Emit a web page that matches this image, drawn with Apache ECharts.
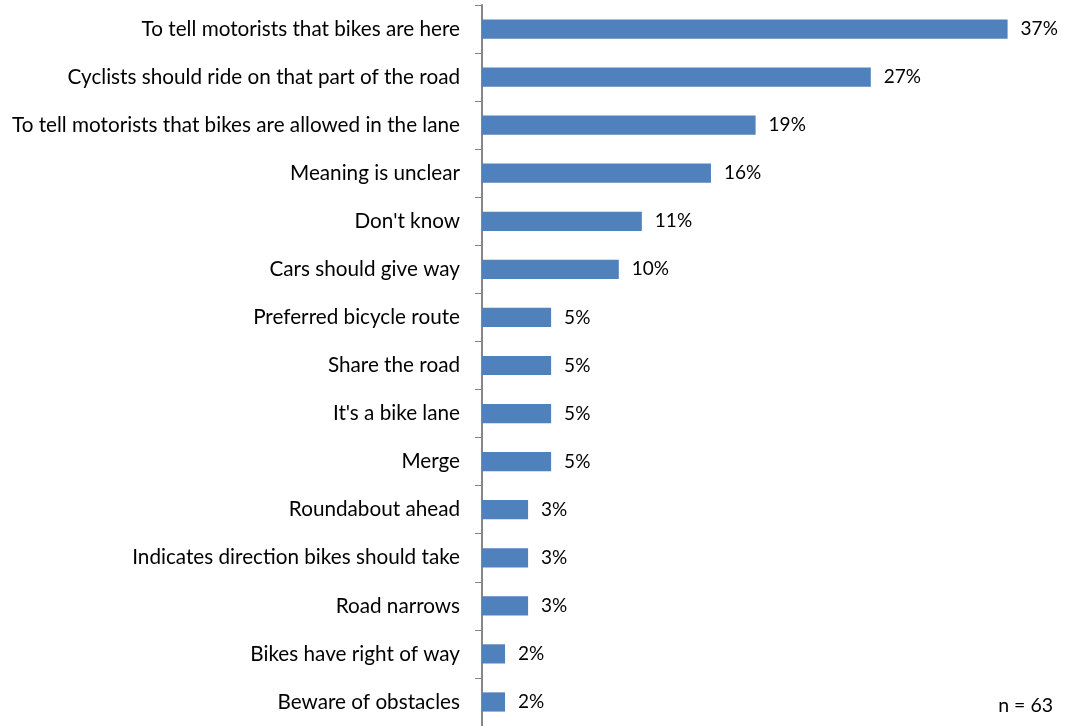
<!DOCTYPE html>
<html>
<head>
<meta charset="utf-8">
<script src="https://cdn.jsdelivr.net/npm/echarts@6/dist/echarts.min.js"></script>
<style>
  html, body { margin: 0; padding: 0; background: #fff; }
  #chart { width: 1069px; height: 726px; }
</style>
</head>
<body>
<div id="chart"></div>
<script>
// Survey responses: what the road marking means (share of respondents, n = 63)
const categories = [
  "To tell motorists that bikes are here",
  "Cyclists should ride on that part of the road",
  "To tell motorists that bikes are allowed in the lane",
  "Meaning is unclear",
  "Don't know",
  "Cars should give way",
  "Preferred bicycle route",
  "Share the road",
  "It's a bike lane",
  "Merge",
  "Roundabout ahead",
  "Indicates direction bikes should take",
  "Road narrows",
  "Bikes have right of way",
  "Beware of obstacles"
];
const shares = [36.5, 27.0, 19.0, 15.9, 11.1, 9.5, 4.8, 4.8, 4.8, 4.8, 3.2, 3.2, 3.2, 1.6, 1.6];
const sampleNote = "n = 63";

const FONT = "Lato";
const chart = echarts.init(document.getElementById('chart'), null, { renderer: 'canvas' });
chart.setOption({
  animation: false,
  backgroundColor: '#ffffff',
  grid: { left: 482, width: 576, top: 5, height: 724, containLabel: false },
  xAxis: {
    type: 'value', min: 0, max: 40,
    axisLine: { show: false }, axisTick: { show: false },
    axisLabel: { show: false }, splitLine: { show: false }
  },
  yAxis: {
    type: 'category', data: categories, inverse: true,
    axisLine: { show: true, lineStyle: { color: '#868686', width: 2 } },
    axisTick: { show: true, alignWithLabel: false, length: 7, lineStyle: { color: '#868686', width: 1 } },
    axisLabel: { margin: 22, color: '#000000', fontFamily: FONT, fontSize: 20.7, padding: [5, 0, 0, 0] }
  },
  series: [{
    type: 'bar',
    data: shares,
    barCategoryGap: '60%',
    itemStyle: { color: '#4F81BD' },
    label: {
      show: true, position: 'right', distance: 13,
      color: '#000000', fontFamily: FONT, fontSize: 19, padding: [5, 0, 0, 0],
      formatter: p => Math.round(p.value) + '%'
    }
  }],
  graphic: [{
    type: 'text', right: 16, top: 696,
    style: { text: sampleNote, fill: '#000000', font: '19.5px ' + FONT }
  }]
});
</script>
</body>
</html>
